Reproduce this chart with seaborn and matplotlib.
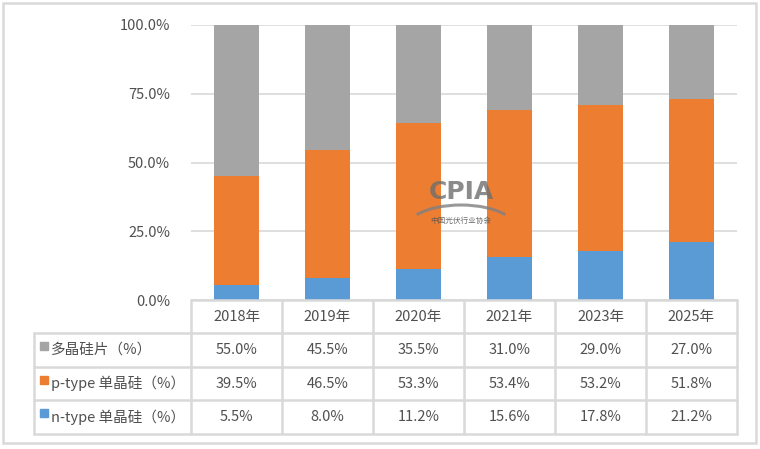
import numpy as np
import pandas as pd
import seaborn as sns
import matplotlib.pyplot as plt
from matplotlib.patches import Rectangle, Arc

sns.set_style("white")
plt.rcParams['font.family'] = ['Noto Sans CJK SC', 'DejaVu Sans']

years = ['2018年', '2019年', '2020年', '2021年', '2023年', '2025年']
multi = [55.0, 45.5, 35.5, 31.0, 29.0, 27.0]
p_type = [39.5, 46.5, 53.3, 53.4, 53.2, 51.8]
n_type = [5.5, 8.0, 11.2, 15.6, 17.8, 21.2]
series_names = ['多晶硅片（%）', 'p-type 单晶硅（%）', 'n-type 单晶硅（%）']
colors = ['#A5A5A5', '#ED7D31', '#5B9BD5']
yticks = [0, 25, 50, 75, 100]

df = pd.DataFrame({'year': years, 'multi': multi, 'p': p_type, 'n': n_type})
df['np'] = df['n'] + df['p']
df['total'] = df['np'] + df['multi']

W, H = 760, 449
fig = plt.figure(figsize=(W / 100, H / 100), dpi=100)
txt = '#505050'
grid_c = '#D9D9D9'

# outer frame
fig.patches.append(Rectangle((3 / W, 1 - 443 / H), 753 / W, 440 / H, transform=fig.transFigure,
                             fill=False, edgecolor=grid_c, lw=1.8))

# bar area
x0, x1, ytop, ybot = 191, 737, 25, 300
ax = fig.add_axes([x0 / W, 1 - ybot / H, (x1 - x0) / W, (ybot - ytop) / H])
for col_name, c in zip(['total', 'np', 'n'], colors):
    sns.barplot(data=df, x='year', y=col_name, color=c, width=0.5, saturation=1,
                linewidth=0, edgecolor=c, ax=ax, zorder=2)
ax.set_ylim(0, 100)
ax.set_xlim(-0.5, len(years) - 0.5)
ax.set_yticks(yticks)
ax.set_yticklabels([f'{v:.1f}%' for v in yticks], color=txt, fontsize=10.5)
ax.tick_params(axis='y', length=0, pad=15)
ax.set_xticks([])
ax.set_xlabel('')
ax.set_ylabel('')
for s in ax.spines.values():
    s.set_visible(False)
ax.yaxis.grid(True, color=grid_c, lw=1.2, zorder=0)
ax.set_axisbelow(True)

# data table
tx = fig.add_axes([0, 0, 1, 1])
tx.set_xlim(0, W)
tx.set_ylim(H, 0)
tx.axis('off')

# watermark
tx.text(461, 192, 'CPIA', ha='center', va='center', fontsize=18, fontweight='bold',
        color='#6E6E6E', alpha=0.8, zorder=3, family='DejaVu Sans')
tx.add_patch(Arc((461, 230), 112, 50, theta1=199, theta2=341, color='#808080', lw=2.2, alpha=0.8))
tx.text(461, 221, '中国光伏行业协会', ha='center', va='center', fontsize=5.5,
        color='#555555', alpha=0.85, zorder=3)

col_edges = np.linspace(x0, x1, len(years) + 1)
row_edges = [300, 333, 367, 400, 434]
left = 34
lw = 1.8
for xe in col_edges:
    tx.plot([xe, xe], [row_edges[0], row_edges[-1]], color=grid_c, lw=lw)
tx.plot([left, left], [row_edges[1], row_edges[-1]], color=grid_c, lw=lw)
tx.plot([x0, x1], [row_edges[0], row_edges[0]], color=grid_c, lw=lw)
for ye in row_edges[1:]:
    tx.plot([left, x1], [ye, ye], color=grid_c, lw=lw)

centers = (col_edges[:-1] + col_edges[1:]) / 2
for c, yr in zip(centers, years):
    tx.text(c, (row_edges[0] + row_edges[1]) / 2, yr, ha='center', va='center', fontsize=10.5, color=txt)

rows = [multi, p_type, n_type]
for i, (name, vals, col) in enumerate(zip(series_names, rows, colors)):
    yc = (row_edges[i + 1] + row_edges[i + 2]) / 2
    tx.add_patch(Rectangle((40, yc - 8), 8, 8, color=col))
    tx.text(51, yc, name, ha='left', va='center', fontsize=10.5, color=txt)
    for c, v in zip(centers, vals):
        tx.text(c, yc, f'{v:.1f}%', ha='center', va='center', fontsize=10.5, color=txt)

fig.savefig('out.png', dpi=100)
